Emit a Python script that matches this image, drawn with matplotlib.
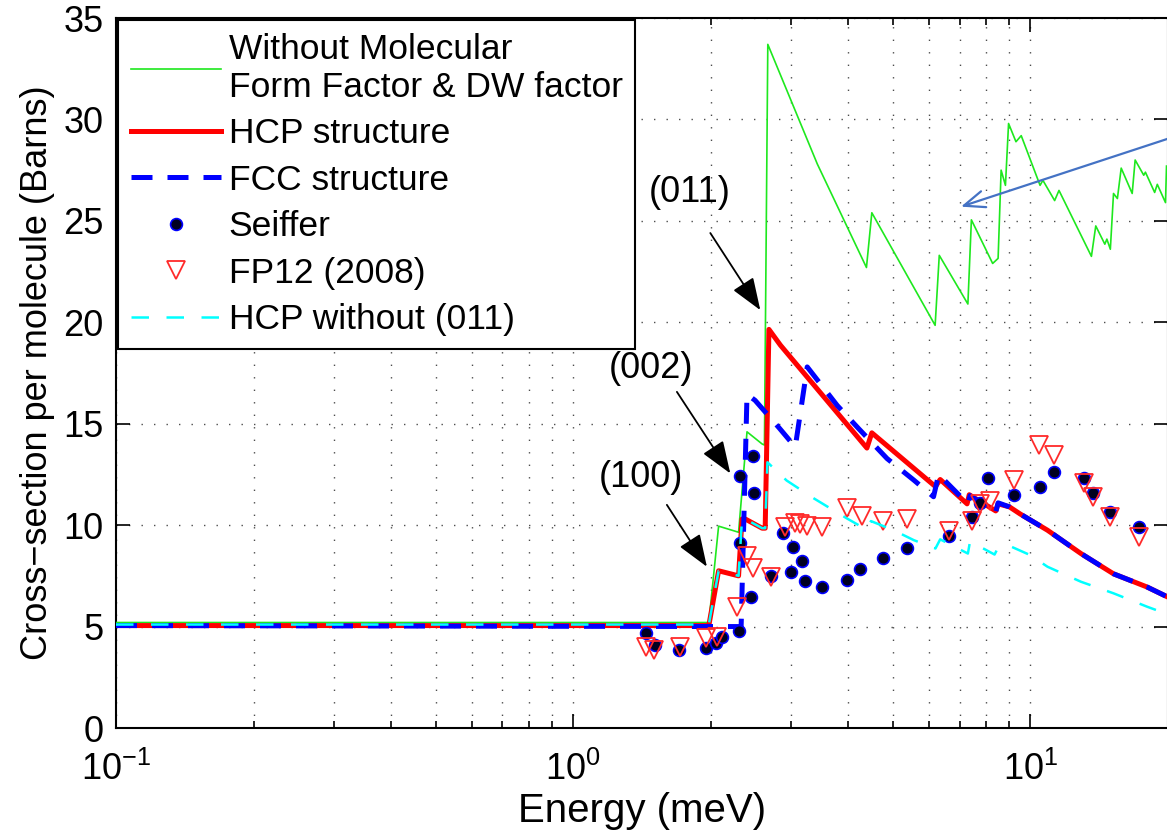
import matplotlib
matplotlib.use("Agg")
import matplotlib.pyplot as plt
from matplotlib.ticker import LogLocator, NullFormatter, MultipleLocator

plt.rcParams['font.family'] = ['Liberation Sans', 'DejaVu Sans']
plt.rcParams['mathtext.fontset'] = 'custom'
plt.rcParams['mathtext.rm'] = 'Liberation Sans'
plt.rcParams['mathtext.it'] = 'Liberation Sans:italic'
plt.rcParams['mathtext.bf'] = 'Liberation Sans:bold'

# Cross-section without molecular form factor and Debye-Waller factor
e_free = [0.1, 1.98, 2.08, 2.30, 2.40, 2.59, 2.62, 2.665, 3.42, 4.38, 4.50, 6.19, 6.32,
          7.30, 7.43, 8.27, 8.50, 8.63, 8.82, 8.96, 9.30, 9.55, 10.5, 10.65, 11.3, 11.55,
          13.6, 13.9, 14.55, 14.7, 14.96, 15.2, 15.5, 15.8, 16.7, 16.95, 17.7, 17.85,
          18.7, 18.95, 19.75, 19.85]
s_free = [5.2, 5.2, 9.95, 9.65, 14.6, 14.0, 13.95, 33.7, 27.8, 22.7, 25.4, 19.85, 23.3,
          20.9, 25.05, 22.9, 23.15, 27.5, 26.75, 29.8, 28.9, 29.2, 26.75, 27.0, 26.0, 26.5,
          23.25, 24.75, 23.85, 24.1, 23.6, 26.35, 26.1, 27.6, 26.35, 28.0, 27.25, 27.4,
          26.4, 26.8, 25.9, 27.7]

# HCP structure
e_hcp = [0.1, 1.98, 2.08, 2.30, 2.34, 2.38, 2.59, 2.63, 2.68, 2.84, 4.39, 4.50, 6.20,
         6.35, 7.27, 7.35, 8.40, 8.50, 9.0, 9.5, 10.9, 12.9, 15.2, 18.0, 20.0]
s_hcp = [5.05, 5.05, 7.75, 7.5, 10.3, 10.3, 9.85, 9.85, 19.65, 18.87, 13.8, 14.55, 11.9,
         12.25, 11.05, 11.5, 10.7, 11.05, 10.9, 10.55, 9.75, 8.6, 7.6, 6.95, 6.45]

# FCC structure
e_fcc = [0.1, 2.33, 2.40, 2.50, 2.82, 3.06, 3.25, 3.78, 4.21, 4.86, 5.56, 6.14, 6.30,
         7.30, 7.38, 8.40, 8.50, 9.0, 9.5, 10.9, 12.9, 15.2, 18.0, 20.0]
s_fcc = [5.05, 5.0, 16.45, 16.15, 14.8, 13.85, 17.8, 15.9, 14.76, 13.28, 12.22, 11.4, 12.5,
         11.05, 11.45, 10.65, 11.1, 10.9, 10.55, 9.75, 8.6, 7.6, 6.95, 6.45]

# HCP structure without the (011) reflection
e_no011 = [0.1, 1.98, 2.08, 2.30, 2.34, 2.38, 2.59, 2.63, 2.66, 2.93, 3.36, 3.97, 4.38,
           4.48, 5.02, 5.56, 6.20, 6.35, 7.30, 7.38, 8.35, 8.50, 9.1, 10.0, 10.9, 12.9,
           15.2, 18.0, 20.0]
s_no011 = [5.1, 5.1, 7.75, 7.5, 10.3, 10.3, 9.85, 9.85, 13.1, 12.2, 11.32, 10.33, 9.78,
           10.2, 9.75, 9.26, 8.85, 9.3, 8.6, 9.2, 8.55, 8.9, 8.93, 8.52, 7.95, 7.21,
           6.64, 5.98, 5.6]

# Measurements: Seiffer
e_seif = [1.44, 1.51, 1.70, 1.95, 2.05, 2.12, 2.31, 2.32, 2.32, 2.45, 2.47, 2.48, 2.71,
          2.88, 2.99, 3.02, 3.17, 3.21, 3.50, 3.97, 4.25, 4.76, 5.37, 6.63, 7.46, 7.77,
          8.06, 9.22, 10.48, 11.28, 13.13, 13.7, 14.96, 17.26]
s_seif = [4.66, 4.1, 3.84, 3.92, 4.2, 4.5, 4.78, 9.13, 12.41, 6.45, 13.4, 11.59, 7.49,
          9.6, 7.7, 8.93, 8.23, 7.25, 6.96, 7.29, 7.82, 8.36, 8.85, 9.46, 10.41, 11.1,
          12.3, 11.51, 11.86, 12.63, 12.3, 11.56, 10.66, 9.92]

# Measurements: FP12 (2008)
e_fp12 = [1.44, 1.50, 1.71, 1.95, 2.06, 2.28, 2.40, 2.47, 2.71, 2.90, 3.05, 3.14, 3.25,
          3.50, 3.97, 4.28, 4.75, 5.37, 6.63, 7.46, 7.75, 8.15, 9.22, 10.45, 11.28, 13.1,
          13.7, 14.96, 17.3]
s_fp12 = [4.0, 3.84, 4.0, 4.42, 4.5, 5.98, 8.5, 7.9, 7.45, 9.9, 10.1, 10.05, 9.95,
          9.9, 10.85, 10.45, 10.2, 10.28, 9.7, 10.2, 11.05, 11.2, 12.25, 13.95, 13.45,
          12.1, 11.4, 10.4, 9.4]

# Annotations: label, text position, arrow tail, arrow tip
ann_labels = ['(011)', '(002)', '(100)']
ann_text = [(1.80, 26.4), (1.48, 17.7), (1.41, 12.35)]
ann_tail = [(1.995, 24.4), (1.686, 16.57), (1.603, 11.0)]
ann_tip = [(2.566, 20.6), (2.206, 12.55), (1.961, 7.95)]

FS = 26

fig = plt.figure(figsize=(11.67, 8.33), dpi=100)
ax = fig.add_axes([116 / 1167, 105 / 833, 1052 / 1167, 710 / 833])

ax.plot(e_free, s_free, color='#1ee81e', lw=1.2,
        label='Without Molecular\nForm Factor & DW factor', zorder=3)
ax.plot(e_hcp, s_hcp, color='#ff0000', lw=3.6, label='HCP structure', zorder=4)
ax.plot(e_fcc, s_fcc, color='#0000ff', lw=3.6, dashes=(4.2, 3.0),
        label='FCC structure', zorder=5)
ax.plot(e_seif, s_seif, ls='none', marker='o', ms=8.5, mfc='#000020', mec='#0000ff',
        mew=1.2, label='Seiffer', zorder=6)
ax.plot(e_fp12, s_fp12, ls='none', marker='v', ms=13, mfc='none', mec='#ff2a2a',
        mew=1.3, label='FP12 (2008)', zorder=7)
ax.plot(e_no011, s_no011, color='#00ffff', lw=1.8, dashes=(7, 7),
        label='HCP without (011)', zorder=8)

ax.set_xscale('log')
ax.set_xlim(0.1, 20)
ax.set_ylim(0, 35)
ax.yaxis.set_major_locator(MultipleLocator(5))
ax.xaxis.set_major_locator(LogLocator(base=10))
ax.xaxis.set_minor_locator(LogLocator(base=10, subs=range(2, 10)))
ax.xaxis.set_minor_formatter(NullFormatter())

ax.tick_params(which='both', direction='in', top=True, right=True, width=1.2,
               labelsize=FS)
ax.tick_params(which='major', length=10)
ax.tick_params(which='minor', length=5)
ax.tick_params(axis='y', pad=9)
ax.tick_params(axis='x', pad=17)
for sp in ax.spines.values():
    sp.set_linewidth(1.5)

grid_style = dict(color='0.3', lw=1.0, ls=(0, (1, 8)))
ax.grid(True, which='major', axis='both', **grid_style)
ax.grid(True, which='minor', axis='x', **grid_style)
ax.set_axisbelow(True)

ax.set_xlabel('Energy (meV)', fontsize=29, labelpad=3)
ax.set_ylabel('Cross\u2212section per molecule (Barns)', fontsize=FS, labelpad=6)

for lab, tpos, tail, tip in zip(ann_labels, ann_text, ann_tail, ann_tip):
    ax.text(tpos[0], tpos[1], lab, fontsize=FS, ha='center', va='center', zorder=9)
    ax.annotate('', xy=tip, xytext=tail,
                arrowprops=dict(arrowstyle='-|>,head_length=2.0,head_width=0.75',
                                mutation_scale=10, color='k', lw=1.3,
                                shrinkA=0, shrinkB=0), zorder=9)

ax.annotate('', xy=(7.05, 25.7), xytext=(20.0, 29.05), annotation_clip=False,
            arrowprops=dict(arrowstyle='->,head_length=1.5,head_width=0.6',
                            mutation_scale=10, color='#4472c4', lw=1.6,
                            shrinkA=0, shrinkB=0), zorder=9)

leg = ax.legend(loc='upper left', bbox_to_anchor=(0, 1), borderaxespad=0.05,
                fontsize=25.5, frameon=True, fancybox=False, framealpha=1,
                edgecolor='k', handlelength=2.55, handletextpad=0.22,
                borderpad=0.36, labelspacing=0.38, numpoints=1)
leg.get_frame().set_linewidth(1.5)
leg.set_zorder(10)

fig.savefig('out.png', dpi=100)
